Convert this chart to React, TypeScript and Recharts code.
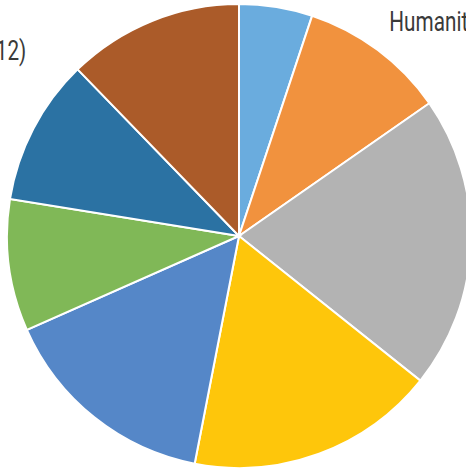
import { PieChart, Pie, Cell } from "recharts";

const categories = [
  "Arts",
  "Humanities",
  "Natural Sciences",
  "Engineering",
  "Health Sciences",
  "Education",
  "Business",
  "Social Sciences",
];
const counts = [5, 10, 20, 17, 15, 9, 10, 12];
const sliceColors = [
  "#6aacde",
  "#f1923e",
  "#b3b3b3",
  "#fec60b",
  "#5587c8",
  "#80b857",
  "#2b72a3",
  "#ab5b29",
];

// manual label nudges, like hand-placed labels in the source chart
const labelShift: [number, number][] = [
  [0, 0],
  [-7, -4],
  [0, 0],
  [0, 0],
  [0, 60],
  [0, 0],
  [-40, 0],
  [-114, 58],
];

const RAD = Math.PI / 180;

const data = categories.map((name, i) => ({ name, value: counts[i] }));

function renderLabel(props: any) {
  const { cx, cy, midAngle, outerRadius, index, name, value } = props;
  const r = outerRadius + 31;
  const [dx, dy] = labelShift[index] || [0, 0];
  const x = cx + r * Math.cos(-midAngle * RAD) + dx;
  const y = cy + r * Math.sin(-midAngle * RAD) + dy;
  const anchor = Math.cos(-midAngle * RAD) >= 0 ? "start" : "end";
  return (
    <text
      x={0}
      y={0}
      dy="0.35em"
      transform={`translate(${x} ${y}) scale(0.74 1)`}
      textAnchor={anchor}
      fill="#3a3a3a"
      fontSize={28}
      fontFamily="Roboto, sans-serif"
    >
      {`${name} (${value})`}
    </text>
  );
}

export default function App() {
  return (
    <div style={{ position: "absolute", left: 0, top: 0, background: "#fff" }}>
      <PieChart width={466} height={469} margin={{ top: 0, right: 0, bottom: 0, left: 0 }}>
        <Pie
          data={data}
          dataKey="value"
          nameKey="name"
          cx={239}
          cy={236}
          outerRadius={232}
          startAngle={90}
          endAngle={-270}
          stroke="#ffffff"
          strokeWidth={2}
          label={renderLabel}
          labelLine={false}
          isAnimationActive={false}
        >
          {data.map((d, i) => (
            <Cell key={d.name} fill={sliceColors[i]} />
          ))}
        </Pie>
      </PieChart>
    </div>
  );
}
